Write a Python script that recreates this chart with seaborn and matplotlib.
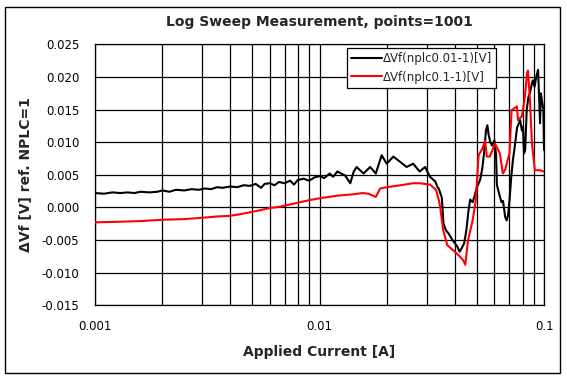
import numpy as np
import pandas as pd
import matplotlib
matplotlib.use("Agg")
import matplotlib.pyplot as plt
import matplotlib.ticker as mticker
from matplotlib.patches import Rectangle
import seaborn as sns

# ---- data ----
black_current = [0.00100, 0.00110, 0.00120, 0.00130, 0.00140, 0.00150, 0.00160, 0.00175,
                 0.00190, 0.00200, 0.00215, 0.00230, 0.00250, 0.00270, 0.00290, 0.00310,
                 0.00330, 0.00350, 0.00370, 0.00400, 0.00430, 0.00460, 0.00490, 0.00520,
                 0.00550, 0.00570, 0.00600, 0.00630, 0.00660, 0.00700, 0.00740, 0.00770,
                 0.00800, 0.00850, 0.00900, 0.00950, 0.01000, 0.01050, 0.01110, 0.01150,
                 0.01200, 0.01300, 0.01370, 0.01420, 0.01463, 0.01570, 0.01680, 0.01780,
                 0.01890, 0.01990, 0.02130, 0.02280, 0.02440, 0.02610, 0.02790, 0.02950,
                 0.03100, 0.03270, 0.03340, 0.03400, 0.03500, 0.03560, 0.03650, 0.03750,
                 0.03900, 0.04000, 0.04100, 0.04200, 0.04300, 0.04400, 0.04500, 0.04600,
                 0.04680, 0.04800, 0.04900, 0.05000, 0.05180, 0.05300, 0.05400, 0.05500,
                 0.05580, 0.05650, 0.05750, 0.05850, 0.06000, 0.06100, 0.06150, 0.06250,
                 0.06350, 0.06450, 0.06550, 0.06700, 0.06800, 0.06900, 0.07000, 0.07120,
                 0.07250, 0.07400, 0.07560, 0.07800, 0.07950, 0.08040, 0.08120, 0.08220,
                 0.08350, 0.08500, 0.08630, 0.08800, 0.08900, 0.09050, 0.09200, 0.09380,
                 0.09500, 0.09570, 0.09650, 0.09750, 0.09900, 0.09970]
black_dvf = [0.0022, 0.0021, 0.0023, 0.0022, 0.0023, 0.0022, 0.0024, 0.0023,
             0.0024, 0.0026, 0.0024, 0.0027, 0.0026, 0.0028, 0.0027, 0.0029,
             0.0028, 0.0031, 0.0030, 0.0032, 0.0031, 0.0034, 0.0033, 0.0036,
             0.0030, 0.0036, 0.0037, 0.0034, 0.0039, 0.0037, 0.0041, 0.0035,
             0.0042, 0.0044, 0.0041, 0.0046, 0.0048, 0.0045, 0.0052, 0.0047,
             0.0055, 0.0049, 0.0037, 0.0055, 0.0062, 0.0052, 0.0062, 0.0052,
             0.0080, 0.0067, 0.0078, 0.0070, 0.0062, 0.0067, 0.0055, 0.0062,
             0.0047, 0.0040, 0.0032, 0.0028, 0.0015, -0.0025, -0.0035, -0.0040,
             -0.0050, -0.0055, -0.0060, -0.0068, -0.0062, -0.0055, -0.0035, -0.0005,
             0.0012, 0.0008, 0.0018, 0.0030, 0.0042, 0.0060, 0.0085, 0.0118,
             0.0126, 0.0112, 0.0100, 0.0095, 0.0103, 0.0080, 0.0035, 0.0025,
             0.0016, 0.0008, 0.0010, -0.0015, -0.0020, -0.0012, 0.0010, 0.0045,
             0.0073, 0.0095, 0.0122, 0.0134, 0.0118, 0.0124, 0.0083, 0.0088,
             0.0150, 0.0170, 0.0175, 0.0190, 0.0195, 0.0185, 0.0200, 0.0211,
             0.0160, 0.0129, 0.0175, 0.0165, 0.0150, 0.0088]

red_current = [0.00100, 0.00130, 0.00160, 0.00200, 0.00250, 0.00300, 0.00350, 0.00400,
               0.00450, 0.00500, 0.00550, 0.00600, 0.00667, 0.00750, 0.00820, 0.00900,
               0.01000, 0.01100, 0.01200, 0.01300, 0.01400, 0.01560, 0.01650, 0.01780,
               0.01860, 0.02000, 0.02300, 0.02600, 0.02800, 0.03100, 0.03300, 0.03400,
               0.03440, 0.03550, 0.03700, 0.04000, 0.04200, 0.04350, 0.04450, 0.04580,
               0.04800, 0.04950, 0.05020, 0.05100, 0.05300, 0.05450, 0.05550, 0.05730,
               0.06030, 0.06340, 0.06540, 0.06700, 0.07000, 0.07150, 0.07550, 0.07640,
               0.07950, 0.08200, 0.08380, 0.08460, 0.08630, 0.08810, 0.09080, 0.09570,
               0.09970]
red_dvf = [-0.0023, -0.0022, -0.0021, -0.0019, -0.0018, -0.0016, -0.0014, -0.0013,
           -0.0010, -0.0007, -0.0004, -0.0001, 0.0001, 0.0005, 0.0008, 0.0011,
           0.0014, 0.0016, 0.0018, 0.0019, 0.0020, 0.0022, 0.0021, 0.0016,
           0.0029, 0.0031, 0.0034, 0.0037, 0.0037, 0.0035, 0.0027, 0.0010,
           0.0001, -0.0035, -0.0058, -0.0068, -0.0075, -0.0081, -0.0088, -0.0050,
           -0.0020, 0.0010, 0.0042, 0.0080, 0.0090, 0.0102, 0.0078, 0.0078,
           0.0098, 0.0083, 0.0052, 0.0058, 0.0083, 0.0149, 0.0155, 0.0134,
           0.0140, 0.0170, 0.0206, 0.0210, 0.0165, 0.0098, 0.0057, 0.0057,
           0.0055]

series_names = ["\u0394Vf(nplc0.01-1)[V]", "\u0394Vf(nplc0.1-1)[V]"]
y_ticks = [-0.015, -0.010, -0.005, 0.000, 0.005, 0.010, 0.015, 0.020, 0.025]
x_ticks = [0.001, 0.01, 0.1]
x_tick_labels = ["0.001", "0.01", "0.1"]

df = pd.concat([
    pd.DataFrame({"I": black_current, "dVf": black_dvf, "series": series_names[0]}),
    pd.DataFrame({"I": red_current, "dVf": red_dvf, "series": series_names[1]}),
], ignore_index=True)

sns.set_style("white")
plt.rcParams["font.family"] = ["DejaVu Sans"]

fig = plt.figure(figsize=(5.67, 3.8), dpi=100)
ax = fig.add_axes([0.167, 0.197, 0.793, 0.686])

sns.lineplot(data=df, x="I", y="dVf", hue="series", sort=False, estimator=None,
             palette={series_names[0]: "black", series_names[1]: "red"},
             linewidth=1.5, ax=ax, zorder=3)

ax.set_xscale("log")
ax.set_xlim(0.001, 0.1)
ax.set_ylim(-0.015, 0.025)
ax.set_yticks(y_ticks)
ax.yaxis.set_major_formatter(mticker.FormatStrFormatter("%.3f"))
ax.set_xticks(x_ticks)
ax.set_xticklabels(x_tick_labels)
ax.xaxis.set_minor_locator(mticker.LogLocator(base=10, subs=np.arange(2, 10)))
ax.xaxis.set_minor_formatter(mticker.NullFormatter())
ax.tick_params(axis="both", which="both", length=0, labelsize=8.5, colors="black")
ax.tick_params(axis="y", pad=11)
ax.tick_params(axis="x", pad=11)

ax.grid(True, which="major", axis="both", color="black", linewidth=0.9)
ax.grid(True, which="minor", axis="x", color="black", linewidth=0.9)
for s in ax.spines.values():
    s.set_color("black")
    s.set_linewidth(0.9)

ax.set_title("Log Sweep Measurement, points=1001", fontsize=10, fontweight="bold", pad=13)
ax.set_xlabel("Applied Current [A]", fontsize=10, fontweight="bold", labelpad=8)
ax.set_ylabel("\u0394Vf [V] ref. NPLC=1", fontsize=10, fontweight="bold", labelpad=6)

leg = ax.legend(loc="upper left", bbox_to_anchor=(0.561, 0.986), borderaxespad=0,
                fontsize=8.5, frameon=True, fancybox=False, handlelength=2.6,
                handletextpad=0.1, labelspacing=0.45, borderpad=0.35)
leg.get_frame().set_edgecolor("black")
leg.get_frame().set_linewidth(0.9)
leg.get_frame().set_alpha(1)

fig.patches.append(Rectangle((5 / 567, 7 / 380), 555 / 567, 366 / 380,
                             transform=fig.transFigure, fill=False,
                             edgecolor="black", linewidth=1.0))

fig.savefig("out.png", dpi=100)
